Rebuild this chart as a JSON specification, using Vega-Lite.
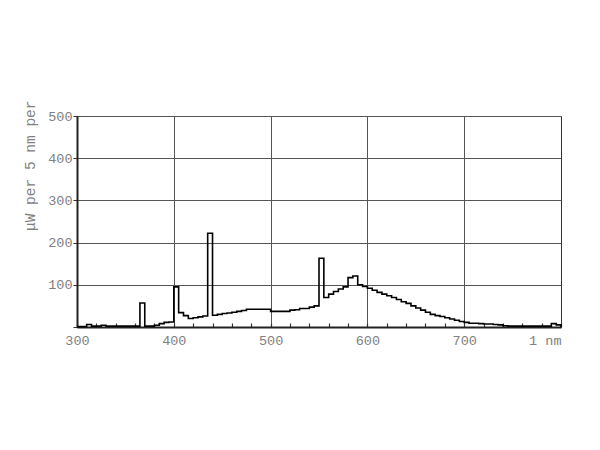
{
  "$schema": "https://vega.github.io/schema/vega-lite/v6.json",
  "autosize": "none",
  "width": 484,
  "height": 211,
  "padding": {"left": 77, "top": 116, "right": 39, "bottom": 123},
  "background": "white",
  "config": {
    "view": {"stroke": "#333333", "strokeWidth": 1},
    "font": "Liberation Mono"
  },
  "data": {
    "values": [
      {"nm": 300, "v": 1}, {"nm": 305, "v": 1}, {"nm": 310, "v": 6}, {"nm": 315, "v": 2},
      {"nm": 320, "v": 2}, {"nm": 325, "v": 4}, {"nm": 330, "v": 2}, {"nm": 335, "v": 2},
      {"nm": 340, "v": 2}, {"nm": 345, "v": 2}, {"nm": 350, "v": 2}, {"nm": 355, "v": 2},
      {"nm": 360, "v": 2}, {"nm": 365, "v": 57}, {"nm": 370, "v": 2}, {"nm": 375, "v": 2},
      {"nm": 380, "v": 4}, {"nm": 385, "v": 8}, {"nm": 390, "v": 11}, {"nm": 395, "v": 12},
      {"nm": 400, "v": 95}, {"nm": 405, "v": 34}, {"nm": 410, "v": 27}, {"nm": 415, "v": 20},
      {"nm": 420, "v": 22}, {"nm": 425, "v": 24}, {"nm": 430, "v": 26}, {"nm": 435, "v": 222},
      {"nm": 440, "v": 28}, {"nm": 445, "v": 30}, {"nm": 450, "v": 32}, {"nm": 455, "v": 33},
      {"nm": 460, "v": 35}, {"nm": 465, "v": 37}, {"nm": 470, "v": 39}, {"nm": 475, "v": 42},
      {"nm": 480, "v": 42}, {"nm": 485, "v": 42}, {"nm": 490, "v": 42}, {"nm": 495, "v": 42},
      {"nm": 500, "v": 37}, {"nm": 505, "v": 37}, {"nm": 510, "v": 37}, {"nm": 515, "v": 37},
      {"nm": 520, "v": 40}, {"nm": 525, "v": 41}, {"nm": 530, "v": 44}, {"nm": 535, "v": 44},
      {"nm": 540, "v": 47}, {"nm": 545, "v": 50}, {"nm": 550, "v": 163}, {"nm": 555, "v": 70},
      {"nm": 560, "v": 78}, {"nm": 565, "v": 84}, {"nm": 570, "v": 90}, {"nm": 575, "v": 95},
      {"nm": 580, "v": 117}, {"nm": 585, "v": 121}, {"nm": 590, "v": 100}, {"nm": 595, "v": 96},
      {"nm": 600, "v": 92}, {"nm": 605, "v": 87}, {"nm": 610, "v": 82}, {"nm": 615, "v": 78},
      {"nm": 620, "v": 74}, {"nm": 625, "v": 70}, {"nm": 630, "v": 65}, {"nm": 635, "v": 60},
      {"nm": 640, "v": 56}, {"nm": 645, "v": 50}, {"nm": 650, "v": 45}, {"nm": 655, "v": 40},
      {"nm": 660, "v": 35}, {"nm": 665, "v": 30}, {"nm": 670, "v": 27}, {"nm": 675, "v": 25},
      {"nm": 680, "v": 22}, {"nm": 685, "v": 19}, {"nm": 690, "v": 16}, {"nm": 695, "v": 13},
      {"nm": 700, "v": 11}, {"nm": 705, "v": 9}, {"nm": 710, "v": 9}, {"nm": 715, "v": 8},
      {"nm": 720, "v": 7}, {"nm": 725, "v": 7}, {"nm": 730, "v": 6}, {"nm": 735, "v": 5},
      {"nm": 740, "v": 3}, {"nm": 745, "v": 2}, {"nm": 750, "v": 2}, {"nm": 755, "v": 2},
      {"nm": 760, "v": 2}, {"nm": 765, "v": 2}, {"nm": 770, "v": 2}, {"nm": 775, "v": 2},
      {"nm": 780, "v": 2}, {"nm": 785, "v": 2}, {"nm": 790, "v": 8}, {"nm": 795, "v": 5},
      {"nm": 800, "v": 0}
    ]
  },
  "mark": {"type": "line", "interpolate": "step-after", "color": "black", "strokeWidth": 1.6},
  "encoding": {
    "x": {
      "field": "nm", "type": "quantitative",
      "scale": {"domain": [300, 800], "nice": false, "zero": false},
      "axis": {
        "title": null,
        "values": [300, 320, 340, 360, 380, 400, 420, 440, 460, 480, 500, 520, 540, 560, 580, 600, 620, 640, 660, 680, 700, 720, 740, 760, 780, 800],
        "labelExpr": "datum.value == 800 ? '1 nm' : (datum.value % 100 == 0 ? datum.label : '')",
        "labelAlign": {"condition": {"test": "datum.value == 800", "value": "right"}, "value": "center"},
        "labelFont": "Liberation Mono",
        "labelFontSize": 13.5,
        "labelColor": "#808080",
        "labelPadding": 10,
        "labelFlush": false,
        "labelOverlap": false,
        "tickSize": -4,
        "tickColor": "#333333",
        "tickWidth": 1.2,
        "domainColor": "#222222",
        "domainWidth": 2,
        "grid": true,
        "gridColor": "#555555",
        "gridWidth": 1,
        "gridOpacity": {"condition": {"test": "datum.value % 100 == 0 && datum.value > 300 && datum.value < 800", "value": 1}, "value": 0}
      }
    },
    "y": {
      "field": "v", "type": "quantitative",
      "scale": {"domain": [0, 500], "nice": false},
      "axis": {
        "title": "μW per 5 nm per",
        "titleFont": "Liberation Mono",
        "titleFontSize": 14.5,
        "titleFontWeight": "normal",
        "titleColor": "#808080",
        "titleX": -47,
        "titleY": -16,
        "titleAngle": 270,
        "titleAlign": "right",
        "titleBaseline": "middle",
        "values": [0, 100, 200, 300, 400, 500],
        "labelExpr": "datum.value == 0 ? '' : datum.label",
        "labelFont": "Liberation Mono",
        "labelFontSize": 13.5,
        "labelColor": "#808080",
        "labelPadding": 1,
        "tickSize": 4,
        "tickColor": "#333333",
        "domainColor": "#222222",
        "domainWidth": 2,
        "grid": true,
        "gridColor": "#555555",
        "gridWidth": 1
      }
    }
  }
}
